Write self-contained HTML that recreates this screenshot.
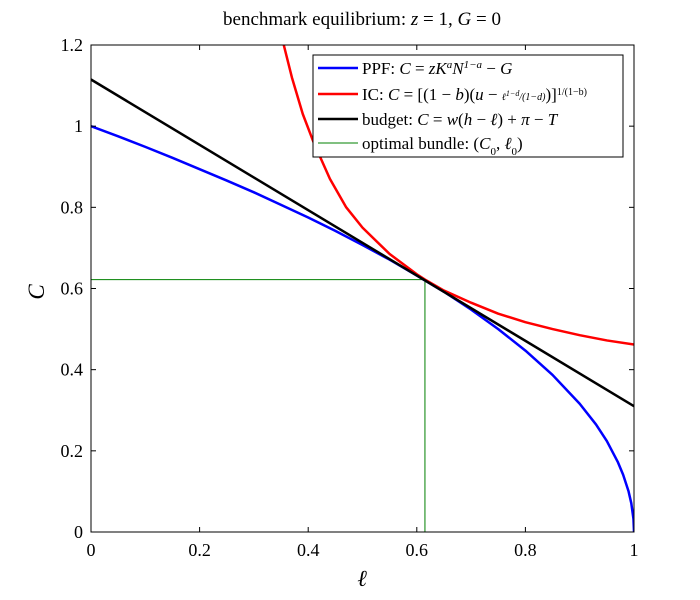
<!DOCTYPE html>
<html><head><meta charset="utf-8"><style>
body{margin:0;background:#fff}
svg{display:block;font-family:"Liberation Serif",serif}
</style></head><body>
<svg id="chart" width="700" height="600" xmlns="http://www.w3.org/2000/svg">
<rect width="700" height="600" fill="#fff"/>
<text x="362" y="25" font-size="19" text-anchor="middle">benchmark equilibrium: <tspan font-style="italic">z</tspan> = 1, <tspan font-style="italic">G</tspan> = 0</text>
<g id="plot"></g>
<text x="362" y="586" font-size="23" font-style="italic" text-anchor="middle">ℓ</text>
<text x="44" y="292" font-size="23" font-style="italic" text-anchor="middle" transform="rotate(-90 44 292)">C</text>
<g>
<rect x="313" y="55" width="310" height="102" fill="#fff" stroke="#000" stroke-width="1"/>
<line x1="318" y1="68" x2="358" y2="68" stroke="#0000ff" stroke-width="2.5"/>
<text x="362" y="74" font-size="17">PPF: <tspan font-style="italic">C</tspan> = <tspan font-style="italic">zK<tspan baseline-shift="super" font-size="11">a</tspan>N<tspan baseline-shift="super" font-size="11">1−a</tspan></tspan> − <tspan font-style="italic">G</tspan></text>
<line x1="318" y1="94" x2="358" y2="94" stroke="#ff0000" stroke-width="2.5"/>
<text x="362" y="100" font-size="17">IC: <tspan font-style="italic">C</tspan> = [(1 − <tspan font-style="italic">b</tspan>)(<tspan font-style="italic">u</tspan> − <tspan font-size="10" font-style="italic">ℓ<tspan baseline-shift="super" font-size="8">1−d</tspan>/(1−d)</tspan>)]<tspan baseline-shift="super" font-size="10">1/(1−b)</tspan></text>
<line x1="318" y1="119" x2="358" y2="119" stroke="#000" stroke-width="2.5"/>
<text x="362" y="125" font-size="17">budget: <tspan font-style="italic">C</tspan> = <tspan font-style="italic">w</tspan>(<tspan font-style="italic">h</tspan> − <tspan font-style="italic">ℓ</tspan>) + <tspan font-style="italic">π</tspan> − <tspan font-style="italic">T</tspan></text>
<line x1="318" y1="143" x2="358" y2="143" stroke="#008000" stroke-width="1"/>
<text x="362" y="149" font-size="17">optimal bundle: (<tspan font-style="italic">C</tspan><tspan font-size="11" baseline-shift="sub">0</tspan>, <tspan font-style="italic">ℓ</tspan><tspan font-size="11" baseline-shift="sub">0</tspan>)</text>
</g>
</svg>
<script>
const xTicks=[0,0.2,0.4,0.6,0.8,1];
const xTickLabels=["0","0.2","0.4","0.6","0.8","1"];
const yTicks=[0,0.2,0.4,0.6,0.8,1,1.2];
const yTickLabels=["0","0.2","0.4","0.6","0.8","1","1.2"];
const ppfL=[0,0.05,0.1,0.15,0.2,0.25,0.3,0.35,0.4,0.45,0.5,0.55,0.6,0.65,0.7,0.75,0.8,0.85,0.9,0.93,0.95,0.97,0.98,0.99,0.995,0.999,1];
const ppfC=[1,0.975,0.949,0.922,0.894,0.866,0.837,0.806,0.775,0.742,0.707,0.671,0.632,0.592,0.548,0.5,0.447,0.387,0.316,0.265,0.224,0.173,0.141,0.1,0.071,0.032,0];
const icL=[0.355,0.37,0.39,0.41,0.44,0.47,0.5,0.55,0.6,0.615,0.65,0.7,0.75,0.8,0.85,0.9,0.95,1.0];
const icC=[1.2,1.12,1.03,0.96,0.87,0.80,0.75,0.685,0.635,0.622,0.595,0.565,0.538,0.517,0.5,0.485,0.472,0.462];
const budgetL=[0,1];
const budgetC=[1.115,0.31];
const optL=[0.615];
const optC=[0.622];
const X0=91,X1=634,Y0=532,Y1=45;
const sx=v=>X0+(X1-X0)*v;
const sy=v=>Y0-(Y0-Y1)*v/1.2;
const NS="http://www.w3.org/2000/svg";
const g=document.getElementById('plot');
function mk(t,a){const e=document.createElementNS(NS,t);for(const k in a)e.setAttribute(k,a[k]);g.appendChild(e);return e;}
const clip=mk('clipPath',{id:'c'});
const cr=document.createElementNS(NS,'rect');cr.setAttribute('x',X0);cr.setAttribute('y',Y1);cr.setAttribute('width',X1-X0);cr.setAttribute('height',Y0-Y1);clip.appendChild(cr);
function line(L,C,col,w,name){const p=mk('polyline',{points:L.map((l,i)=>sx(l)+','+sy(C[i])).join(' '),fill:'none',stroke:col,'stroke-width':w,'stroke-linejoin':'round','clip-path':'url(#c)'});

}
const oh=mk('polyline',{points:sx(0)+','+sy(optC[0])+' '+sx(optL[0])+','+sy(optC[0])+' '+sx(optL[0])+','+sy(0),fill:'none',stroke:'#008000','stroke-width':1});


line(ppfL,ppfC,'#0000ff',2.5,'ppf-curve');
line(icL,icC,'#ff0000',2.5,'ic-curve');
line(budgetL,budgetC,'#000',2.5,'budget-line');
const fr=mk('rect',{x:X0,y:Y1,width:X1-X0,height:Y0-Y1,fill:'none',stroke:'#000','stroke-width':1});


xTicks.forEach((t,i)=>{const x=sx(t);
mk('line',{x1:x,y1:Y0,x2:x,y2:Y0-5,stroke:'#000'});mk('line',{x1:x,y1:Y1,x2:x,y2:Y1+5,stroke:'#000'});
const tx=mk('text',{x:x,y:Y0+24,'font-size':18,'text-anchor':'middle'});tx.textContent=xTickLabels[i];

});
yTicks.forEach((t,i)=>{const y=sy(t);
mk('line',{x1:X0,y1:y,x2:X0+5,y2:y,stroke:'#000'});mk('line',{x1:X1,y1:y,x2:X1-5,y2:y,stroke:'#000'});
const tx=mk('text',{x:X0-8,y:y+6,'font-size':18,'text-anchor':'end'});tx.textContent=yTickLabels[i];

});
</script>
</body></html>
